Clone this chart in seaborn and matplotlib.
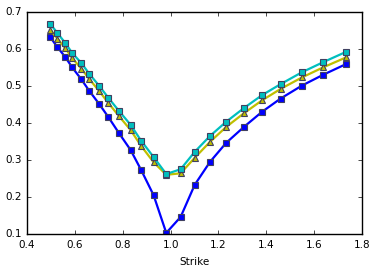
import numpy as np
import pandas as pd
import matplotlib
matplotlib.use('Agg')
import matplotlib.pyplot as plt
import seaborn as sns

strike = [0.497, 0.527, 0.560, 0.589, 0.627, 0.660, 0.702, 0.740, 0.785, 0.833,
          0.877, 0.929, 0.982, 1.042, 1.101, 1.165, 1.232, 1.306, 1.382, 1.460,
          1.549, 1.637, 1.733]

vol_blue = [0.632, 0.605, 0.578, 0.550, 0.518, 0.487, 0.451, 0.416, 0.372, 0.327,
            0.273, 0.205, 0.103, 0.146, 0.233, 0.295, 0.346, 0.389, 0.430, 0.466,
            0.501, 0.530, 0.559]

vol_yellow = [0.652, 0.628, 0.602, 0.575, 0.547, 0.519, 0.486, 0.454, 0.418, 0.381,
              0.338, 0.294, 0.260, 0.264, 0.306, 0.349, 0.389, 0.426, 0.461, 0.492,
              0.523, 0.550, 0.577]

vol_cyan = [0.668, 0.643, 0.616, 0.589, 0.562, 0.533, 0.500, 0.468, 0.432, 0.395,
            0.352, 0.308, 0.262, 0.275, 0.322, 0.365, 0.403, 0.440, 0.475, 0.505,
            0.537, 0.564, 0.592]

plt.style.use('classic')
plt.rcParams['font.family'] = ['DejaVu Sans']
plt.rcParams['font.size'] = 7.5

fig = plt.figure(figsize=(3.77, 2.71), dpi=100)
ax = fig.add_axes([0.0716, 0.1365, 0.8886, 0.8195])

series = [
    (vol_blue, 'b', 's'),
    (vol_yellow, 'y', '^'),
    (vol_cyan, 'c', 's'),
]
for vals, col, mk in series:
    df = pd.DataFrame({'Strike': strike, 'vol': vals})
    sns.lineplot(data=df, x='Strike', y='vol', ax=ax, color=col, marker=mk,
                 markersize=5, markeredgecolor='#404060', markeredgewidth=0.8,
                 linewidth=1.6, legend=False)

ax.set_xlim(0.4, 1.8)
ax.set_ylim(0.1, 0.7)
ax.set_xlabel('Strike', fontsize=7.5)
ax.set_ylabel('')
ax.tick_params(labelsize=7.5, length=3)

fig.savefig('out.png', dpi=100)
